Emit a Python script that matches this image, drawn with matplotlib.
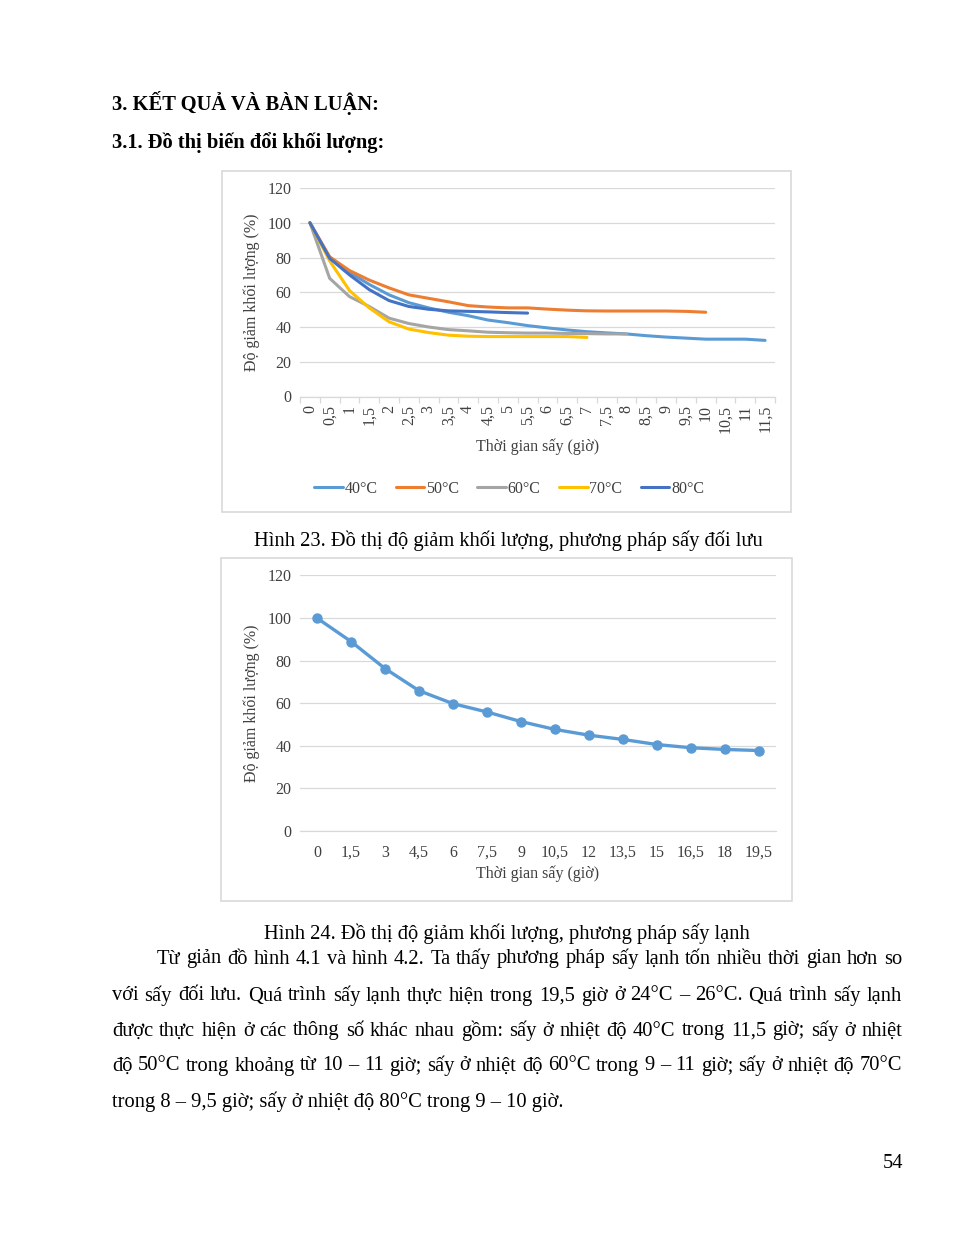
import numpy as np
import matplotlib
matplotlib.use("Agg")
import matplotlib.pyplot as plt
from matplotlib.patches import Rectangle

plt.rcParams['font.family'] = ['Liberation Serif', 'DejaVu Serif']

W, H = 969, 1254

# ---- data: convection drying (Hinh 23) ----
x1_labels = ['0', '0,5', '1', '1,5', '2', '2,5', '3', '3,5', '4', '4,5', '5', '5,5',
             '6', '6,5', '7', '7,5', '8', '8,5', '9', '9,5', '10', '10,5', '11', '11,5']
t40 = [100, 80, 71.5, 64.5, 58.5, 54, 51, 48.5, 46.5, 44, 42.5, 40.8,
       39.5, 38.3, 37.3, 36.6, 36, 35, 34.2, 33.6, 33, 33, 33, 32.3]
t50 = [100, 80.4, 72.5, 67, 62.5, 58.5, 56.5, 54.5, 52.3, 51.5, 51, 51,
       50.3, 49.7, 49.3, 49.2, 49.2, 49.2, 49.2, 49, 48.5]
t60 = [100, 68, 57.5, 51.8, 45.1, 42, 40, 38.5, 37.8, 37, 36.7, 36.5,
       36.5, 36.3, 36.2, 36, 36]
t70 = [100, 78, 61, 51, 43, 38.8, 36.8, 35.3, 34.7, 34.5, 34.5, 34.5,
       34.5, 34.5, 34]
t80 = [100, 79.5, 70, 61.5, 55.2, 51.8, 50.2, 49.3, 49, 48.7, 48.3, 48]
series1 = [('40°C', t40, '#5B9BD5'), ('50°C', t50, '#ED7D31'), ('60°C', t60, '#A5A5A5'),
           ('70°C', t70, '#FFC000'), ('80°C', t80, '#4472C4')]

# ---- data: cold drying (Hinh 24) ----
x2_labels = ['0', '1,5', '3', '4,5', '6', '7,5', '9', '10,5', '12', '13,5', '15', '16,5', '18', '19,5']
cold = [100, 89, 76.3, 65.9, 59.8, 55.9, 51.4, 47.7, 45, 43, 40.6, 39.1, 38.3, 37.8]

yticks = [0, 20, 40, 60, 80, 100, 120]

FS_CHART = 11.5
FS_BODY = 14.8


def rect(x0, y0, x1, y1):
    return [x0 / W, 1 - y1 / H, (x1 - x0) / W, (y1 - y0) / H]


fig = plt.figure(figsize=(W / 100, H / 100), dpi=100)
fig.patch.set_facecolor('white')

# chart frames
for (bx0, by0, bx1, by1) in [(222, 171, 791, 512), (221, 558, 792, 901)]:
    fig.patches.append(Rectangle((bx0 / W, 1 - by1 / H), (bx1 - bx0) / W, (by1 - by0) / H,
                                 transform=fig.transFigure, fill=False,
                                 edgecolor='#D9D9D9', lw=1.2))


def style_axes(ax, n):
    ax.set_ylim(0, 120)
    ax.set_xlim(-0.5, n - 0.5)
    ax.set_yticks(yticks)
    ax.grid(axis='y', color='#D9D9D9', lw=0.9)
    ax.set_axisbelow(True)
    for s in ['top', 'right', 'left']:
        ax.spines[s].set_visible(False)
    ax.spines['bottom'].set_color('#D9D9D9')
    ax.spines['bottom'].set_linewidth(0.9)
    ax.tick_params(axis='y', length=0, labelsize=FS_CHART, pad=6, colors='#404040')
    ax.set_ylabel('Độ giảm khối lượng (%)', fontsize=FS_CHART, color='#404040')
    ax.yaxis.set_label_coords(-0.085, 0.5)


# chart 1
ax1 = fig.add_axes(rect(300, 188, 775, 396.5))
style_axes(ax1, len(x1_labels))
for name, vals, col in series1:
    ax1.plot(range(len(vals)), vals, color=col, lw=2.2, label=name, solid_capstyle='round')
ax1.set_xticks(range(len(x1_labels)))
ax1.set_xticklabels(x1_labels, rotation=90)
ax1.set_xticks(np.arange(-0.5, len(x1_labels), 1), minor=True)
ax1.tick_params(axis='x', which='major', length=0, labelsize=FS_CHART, pad=6, colors='#404040')
ax1.tick_params(axis='x', which='minor', length=4, color='#D9D9D9', width=0.9)
ax1.set_xlabel('Thời gian sấy (giờ)', fontsize=FS_CHART, color='#404040', labelpad=4)
fig.legend(loc='center', bbox_to_anchor=(509 / W, 1 - 489 / H), ncol=5, frameon=False,
           fontsize=FS_CHART, handlelength=1.8, handletextpad=0.1, columnspacing=1.15,
           labelcolor='#404040')

# chart 2
ax2 = fig.add_axes(rect(300, 575.5, 776, 831))
style_axes(ax2, len(x2_labels))
ax2.plot(range(len(cold)), cold, color='#5B9BD5', lw=2.4, marker='o', ms=6.5)
ax2.set_xticks(range(len(x2_labels)))
ax2.set_xticklabels(x2_labels)
ax2.tick_params(axis='x', length=0, labelsize=FS_CHART, pad=10, colors='#404040')
ax2.set_xlabel('Thời gian sấy (giờ)', fontsize=FS_CHART, color='#404040', labelpad=3)

# page text
fig.text(112 / W, 1 - 103 / H, '3. KẾT QUẢ VÀ BÀN LUẬN:', fontsize=FS_BODY, weight='bold', va='center')
fig.text(112 / W, 1 - 143 / H, '3.1. Đồ thị biến đổi khối lượng:', fontsize=FS_BODY, weight='bold', va='center')
fig.text(508 / W, 1 - 541 / H, 'Hình 23. Đồ thị độ giảm khối lượng, phương pháp sấy đối lưu',
         fontsize=FS_BODY, ha='center', va='center')
fig.text(507 / W, 1 - 934 / H, 'Hình 24. Đồ thị độ giảm khối lượng, phương pháp sấy lạnh',
         fontsize=FS_BODY, ha='center', va='center')
fig.text(903 / W, 1 - 1163 / H, '54', fontsize=FS_BODY, ha='right', va='center')

para = [
    (157, 959, 'Từ giản đồ hình 4.1 và hình 4.2. Ta thấy phương pháp sấy lạnh tốn nhiều thời gian hơn so', True),
    (112, 996, 'với sấy đối lưu. Quá trình sấy lạnh thực hiện trong 19,5 giờ ở 24°C – 26°C. Quá trình sấy lạnh', True),
    (112, 1031, 'được thực hiện ở các thông số khác nhau gồm: sấy ở nhiệt độ 40°C trong 11,5 giờ; sấy ở nhiệt', True),
    (112, 1066, 'độ 50°C trong khoảng từ 10 – 11 giờ; sấy ở nhiệt độ 60°C trong 9 – 11 giờ; sấy ở nhiệt độ 70°C', True),
    (112, 1102, 'trong 8 – 9,5 giờ; sấy ở nhiệt độ 80°C trong 9 – 10 giờ.', False),
]
renderer = fig.canvas.get_renderer()
right = 902
for x0, y, line, justify in para:
    if not justify:
        fig.text(x0 / W, 1 - y / H, line, fontsize=FS_BODY, va='center')
        continue
    words = line.split(' ')
    texts = [fig.text(0, 1 - y / H, w, fontsize=FS_BODY, va='center') for w in words]
    widths = [t.get_window_extent(renderer).width for t in texts]
    gap = (right - x0 - sum(widths)) / (len(words) - 1)
    x = x0
    for t, w in zip(texts, widths):
        t.set_x(x / W)
        x += w + gap

fig.savefig('out.png', dpi=100)
